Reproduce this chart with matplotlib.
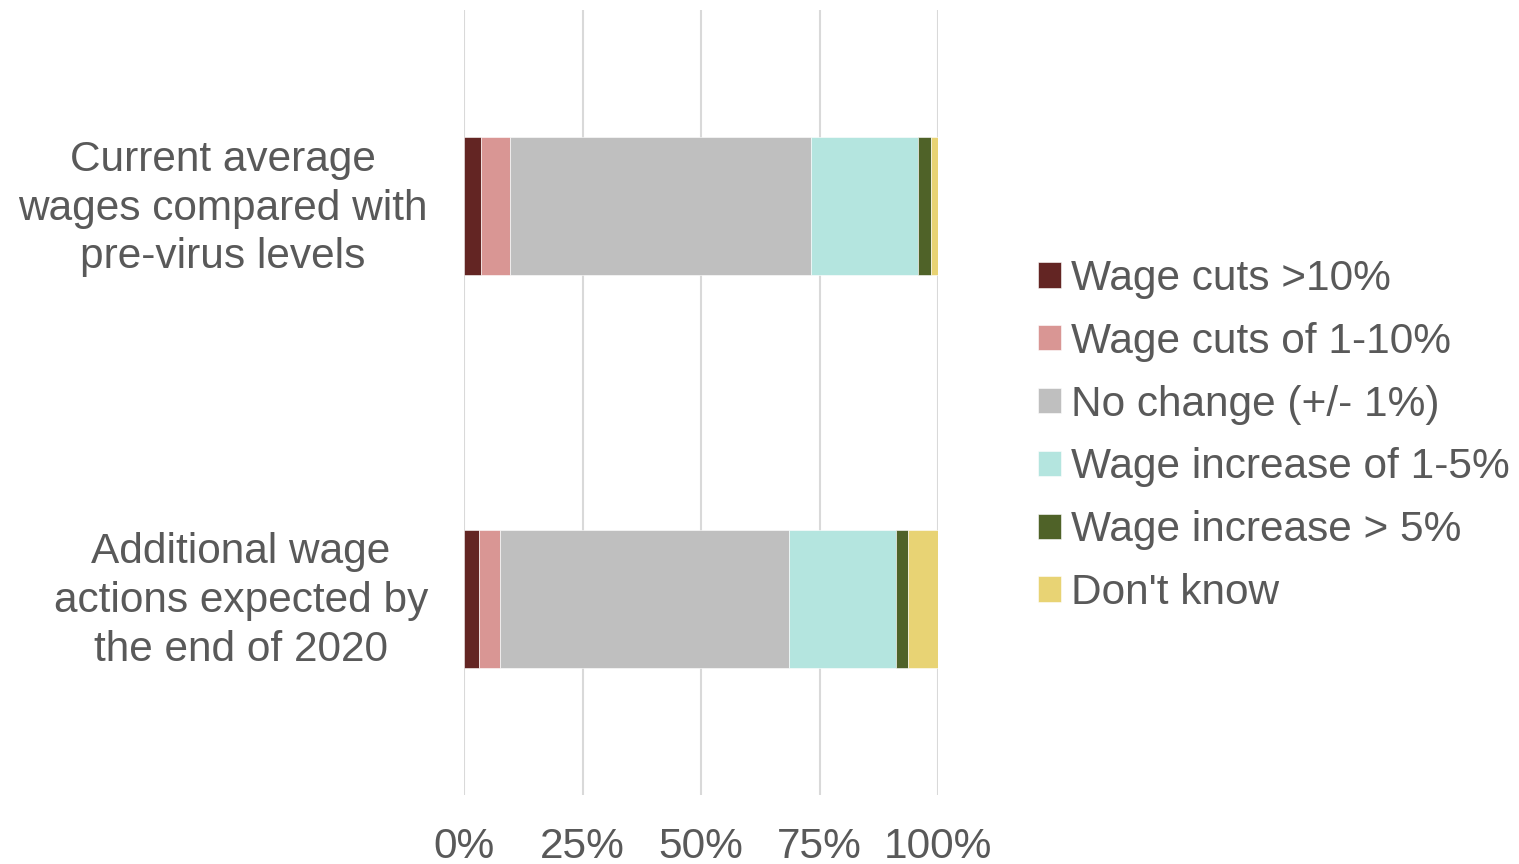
import matplotlib.pyplot as plt
import matplotlib.transforms as mtransforms
import numpy as np

plt.rcParams['font.family'] = ['Liberation Sans', 'DejaVu Sans']

questions = ["Current average\nwages compared with\npre-virus levels",
             "Additional wage\nactions expected by\nthe end of 2020"]
responses = ["Wage cuts >10%", "Wage cuts of 1-10%", "No change (+/- 1%)",
             "Wage increase of 1-5%", "Wage increase > 5%", "Don't know"]
shares = {
    "Wage cuts >10%": [3.5, 3.1],
    "Wage cuts of 1-10%": [6.2, 4.6],
    "No change (+/- 1%)": [63.6, 60.9],
    "Wage increase of 1-5%": [22.4, 22.5],
    "Wage increase > 5%": [2.8, 2.6],
    "Don't know": [1.5, 6.3],
}
colors = ["#632523", "#D99694", "#BFBFBF", "#B4E5DF", "#4F6228", "#E8D374"]
ticks = [0, 25, 50, 75, 100]
tick_labels = ["0%", "25%", "50%", "75%", "100%"]

TEXT = "#595959"
FS = 30.5

fig = plt.figure(figsize=(15.19, 8.64), dpi=100)
ax = fig.add_axes([464 / 1519, 1 - 795 / 864, 474 / 1519, 785 / 864])

ypos = np.arange(len(questions))
left = np.zeros(len(questions))
for resp, col in zip(responses, colors):
    vals = np.array(shares[resp])
    ax.barh(ypos, vals, left=left, height=0.352, color=col, label=resp,
            edgecolor="white", linewidth=0.4, zorder=3)
    left += vals

ax.set_xlim(0, 100)
ax.set_ylim(1.5, -0.5)
ax.set_xticks(ticks)
ax.set_xticklabels(tick_labels)
ax.set_yticks(ypos)
ax.set_yticklabels(questions, multialignment="center", linespacing=1.28)
ax.tick_params(axis="both", length=0, labelsize=FS, labelcolor=TEXT)
ax.tick_params(axis="y", pad=26)
ax.tick_params(axis="x", pad=23)

# nudge the wrapped category labels up a little
lift = mtransforms.ScaledTranslation(0, 0.065, fig.dpi_scale_trans)
for lbl in ax.get_yticklabels():
    lbl.set_transform(lbl.get_transform() + lift)

ax.grid(axis="x", color="#D9D9D9", linewidth=1.5, zorder=0)
for s in ax.spines.values():
    s.set_visible(False)

leg = fig.legend(loc="center left", bbox_to_anchor=(1038 / 1519, 0.4954),
                 frameon=False, fontsize=FS, handlelength=0.55,
                 handleheight=0.55, handletextpad=0.22, labelspacing=0.54,
                 borderpad=0, borderaxespad=0)
for t in leg.get_texts():
    t.set_color(TEXT)

fig.savefig("out.png", dpi=100)
